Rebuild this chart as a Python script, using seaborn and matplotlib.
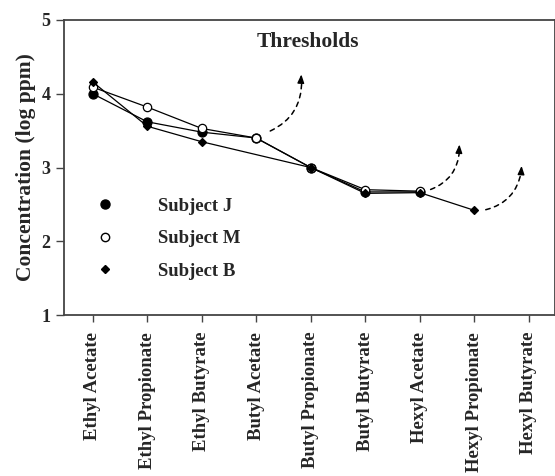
import numpy as np
import pandas as pd
import matplotlib
matplotlib.use("Agg")
import matplotlib.pyplot as plt
from matplotlib.lines import Line2D
import seaborn as sns

# ------------------------------------------------------------------
# DATA
# ------------------------------------------------------------------
esters = ["Ethyl Acetate", "Ethyl Propionate", "Ethyl Butyrate",
          "Butyl Acetate", "Butyl Propionate", "Butyl Butyrate",
          "Hexyl Acetate", "Hexyl Propionate", "Hexyl Butyrate"]
subject_j = [4.00, 3.62, 3.48, 3.40, 3.00, 2.67, 2.67, np.nan, np.nan]
subject_m = [4.09, 3.82, 3.53, 3.40, 3.00, 2.70, 2.68, np.nan, np.nan]
subject_b = [4.16, 3.56, 3.35, np.nan, 3.00, 2.65, 2.66, 2.42, np.nan]
subjects = ["Subject J", "Subject M", "Subject B"]

# threshold arrows: (start x, start y, tip x, tip y) in data units
arrow_start_x = [3.21, 6.15, 7.16]
arrow_start_y = [3.48, 2.69, 2.42]
arrow_tip_x = [3.83, 6.73, 7.87]
arrow_tip_y = [4.30, 3.35, 3.06]

# ------------------------------------------------------------------
# PLOT
# ------------------------------------------------------------------
sns.set_style("ticks")
plt.rcParams["font.family"] = ["Liberation Serif", "DejaVu Serif"]
plt.rcParams["font.weight"] = "bold"

df = pd.DataFrame({"ester": esters * 3,
                   "x": list(range(len(esters))) * 3,
                   "conc": subject_j + subject_m + subject_b,
                   "subject": np.repeat(subjects, len(esters))})

fig = plt.figure(figsize=(5.55, 4.76), dpi=100)
ax = fig.add_axes([0.115, 0.338, 0.885, 0.62])

styles = {"Subject J": dict(marker="o", mfc="black", ms=6.5),
          "Subject M": dict(marker="o", mfc="white", ms=6.0),
          "Subject B": dict(marker="D", mfc="black", ms=4.5)}
for s in subjects:
    sub = df[df["subject"] == s]
    st = styles[s]
    sns.lineplot(data=sub, x="x", y="conc", ax=ax, color="black", lw=0.9,
                 marker=st["marker"], markersize=st["ms"],
                 markerfacecolor=st["mfc"], markeredgecolor="black",
                 markeredgewidth=0.9, sort=False, legend=False)

# dashed curved arrows towards (out-of-range) thresholds
for sx, sy, tx, ty in zip(arrow_start_x, arrow_start_y, arrow_tip_x, arrow_tip_y):
    ax.annotate("", xy=(tx, ty - 0.08), xytext=(sx, sy),
                arrowprops=dict(arrowstyle="-", color="black", lw=1.1,
                                linestyle=(0, (3, 3)),
                                connectionstyle="arc3,rad=0.35"))
    ax.annotate("", xy=(tx, ty), xytext=(tx - 0.01, ty - 0.12),
                arrowprops=dict(arrowstyle="-|>,head_length=0.5,head_width=0.2",
                                color="black", lw=1.0))

ax.text(3.95, 4.7, "Thresholds", ha="center", va="center",
        fontsize=15.5, fontweight="bold")

handles = [Line2D([], [], ls="none", marker=styles[s]["marker"],
                  ms=styles[s]["ms"], mfc=styles[s]["mfc"], mec="black")
           for s in subjects]
ax.legend(handles, subjects, loc="upper left", bbox_to_anchor=(0.031, 0.455),
          frameon=False, handlelength=1, handletextpad=2.3,
          labelspacing=0.82, prop={"size": 13.5, "weight": "bold"})

ax.set_xlim(-0.53, 8.48)
ax.set_ylim(1, 5)
ax.set_yticks([1, 2, 3, 4, 5])
ax.set_xticks(range(len(esters)))
ax.set_xticklabels(esters, rotation=90, fontsize=13.5, fontweight="bold")
ax.tick_params(axis="y", labelsize=13, length=6, width=1, color="#444444")
ax.tick_params(axis="x", length=5, width=1, pad=7, color="#444444")
ax.set_xlabel("")
ax.set_ylabel("Concentration (log ppm)", fontsize=15.5, fontweight="bold",
              labelpad=4)
for sp in ax.spines.values():
    sp.set_color("#444444")
    sp.set_linewidth(1.3)

fig.savefig("out.png", dpi=100)
